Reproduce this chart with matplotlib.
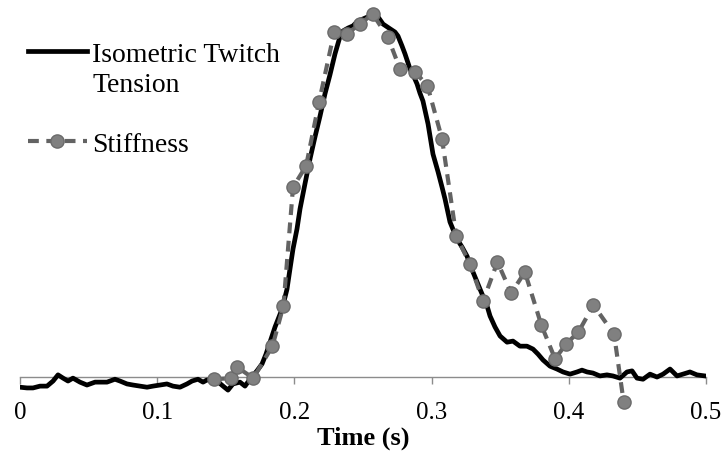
import matplotlib
matplotlib.use("Agg")
import matplotlib.pyplot as plt
from matplotlib.offsetbox import HPacker

plt.rcParams['font.family'] = ['Liberation Serif', 'DejaVu Serif']

# isometric twitch tension (normalised)
tension_t = [0.000, 0.0051, 0.0095, 0.0146, 0.0197, 0.0241, 0.0277, 0.0314, 0.0350, 0.0386,
             0.0437, 0.0488, 0.0547, 0.0583, 0.0634, 0.0692, 0.0729, 0.0780, 0.0824, 0.0875,
             0.0926, 0.0969, 0.1020, 0.1071, 0.1115, 0.1166, 0.1217, 0.1254, 0.1297, 0.1334,
             0.1363, 0.1436, 0.1480, 0.1516, 0.1552, 0.1603, 0.1640, 0.1676, 0.1727, 0.1764,
             0.1793, 0.1822, 0.1859, 0.1910, 0.1946, 0.1968, 0.1990, 0.2019, 0.2041, 0.2077,
             0.2114, 0.2150, 0.2187, 0.2223, 0.2259, 0.2296, 0.2332, 0.2354, 0.2391, 0.2427,
             0.2464, 0.2500, 0.2536, 0.2573, 0.2609, 0.2646, 0.2697, 0.2733, 0.2755, 0.2784,
             0.2806, 0.2843, 0.2872, 0.2894, 0.2915, 0.2937, 0.2974, 0.3010, 0.3047, 0.3076,
             0.3098, 0.3134, 0.3185, 0.3222, 0.3258, 0.3302, 0.3353, 0.3404, 0.3426, 0.3462,
             0.3499, 0.3550, 0.3593, 0.3644, 0.3695, 0.3739, 0.3776, 0.3812, 0.3863, 0.3914,
             0.3958, 0.4009, 0.4060, 0.4096, 0.4133, 0.4176, 0.4227, 0.4278, 0.4322, 0.4373,
             0.4424, 0.4461, 0.4497, 0.4541, 0.4592, 0.4643, 0.4687, 0.4738, 0.4789, 0.4832,
             0.4883, 0.4934, 0.4993]
tension = [-0.028, -0.030, -0.030, -0.025, -0.025, -0.011, 0.006, -0.003, -0.011, -0.003,
           -0.014, -0.022, -0.014, -0.014, -0.014, -0.006, -0.011, -0.019, -0.022, -0.025,
           -0.028, -0.025, -0.022, -0.019, -0.025, -0.028, -0.019, -0.011, -0.006, -0.014,
           -0.008, -0.011, -0.025, -0.036, -0.019, -0.014, -0.025, -0.006, 0.017, 0.036,
           0.063, 0.096, 0.138, 0.187, 0.242, 0.298, 0.353, 0.408, 0.463, 0.532,
           0.601, 0.661, 0.719, 0.780, 0.832, 0.890, 0.937, 0.953, 0.961, 0.967,
           0.981, 0.986, 0.992, 0.994, 0.992, 0.972, 0.959, 0.950, 0.939, 0.912,
           0.890, 0.848, 0.826, 0.807, 0.782, 0.760, 0.697, 0.614, 0.565, 0.523,
           0.490, 0.427, 0.380, 0.358, 0.333, 0.289, 0.242, 0.196, 0.168, 0.138,
           0.113, 0.096, 0.099, 0.085, 0.085, 0.077, 0.063, 0.047, 0.030, 0.022,
           0.014, 0.008, 0.014, 0.019, 0.014, 0.011, 0.003, 0.006, 0.003, -0.003,
           0.014, 0.017, -0.003, -0.006, 0.008, 0.000, 0.008, 0.022, 0.003, 0.008,
           0.014, 0.006, 0.003]

# stiffness samples
stiff_t = [0.1414, 0.154, 0.158, 0.170, 0.184, 0.192, 0.199, 0.2085, 0.218, 0.229,
           0.238, 0.248, 0.257, 0.268, 0.277, 0.288, 0.297, 0.3076, 0.318, 0.328,
           0.3375, 0.348, 0.358, 0.368, 0.380, 0.390, 0.398, 0.407, 0.418, 0.433, 0.440]
stiffness = [-0.006, -0.003, 0.028, -0.003, 0.085, 0.196, 0.523, 0.581, 0.758, 0.950,
             0.945, 0.972, 1.000, 0.937, 0.848, 0.840, 0.802, 0.656, 0.388, 0.311,
             0.209, 0.317, 0.231, 0.289, 0.143, 0.050, 0.091, 0.124, 0.198, 0.118, -0.069]

xticks = [0, 0.1, 0.2, 0.3, 0.4, 0.5]
xtick_labels = ['0', '0.1', '0.2', '0.3', '0.4', '0.5']

fig = plt.figure(figsize=(7.26, 4.56), dpi=100)
ax = fig.add_axes([20 / 726, 46 / 456, 686 / 726, 410 / 456])

ax.plot(tension_t, tension, color='black', lw=3.4, solid_joinstyle='round',
        label='Isometric Twitch\nTension')
ax.plot(stiff_t, stiffness, color='#636363', lw=3.0, dashes=(2.6, 1.8),
        dash_capstyle='butt', marker='o', ms=9.5, mfc='#808080', mec='#6b6b6b',
        mew=1.0, label='Stiffness')

ax.set_xlim(0, 0.5)
ax.set_ylim(-0.088, 1.041)

for side in ['left', 'right', 'top']:
    ax.spines[side].set_visible(False)
ax.spines['bottom'].set_position(('data', 0))
ax.spines['bottom'].set_color('#8c8c8c')
ax.spines['bottom'].set_linewidth(1.0)
ax.spines['bottom'].set_zorder(0)
ax.set_yticks([])
ax.set_xticks(xticks)
ax.set_xticklabels(xtick_labels)
ax.tick_params(axis='x', direction='out', length=5, width=1, color='#8c8c8c',
               labelsize=18, pad=12)
ax.set_xlabel('Time (s)', fontsize=19, fontweight='bold', labelpad=2)

leg = ax.legend(loc='upper left', bbox_to_anchor=(0.012, 0.896), frameon=False,
                fontsize=20, handlelength=2.1, handletextpad=0.2,
                labelspacing=1.25, borderpad=0, borderaxespad=0)
for txt in leg.get_texts():
    txt.set_linespacing(1.28)
# keep the line key level with the first line of the two-line label
for hp in leg.findobj(HPacker):
    if hp.align == 'baseline':
        hp.align = 'top'

fig.savefig('out.png', dpi=100)
